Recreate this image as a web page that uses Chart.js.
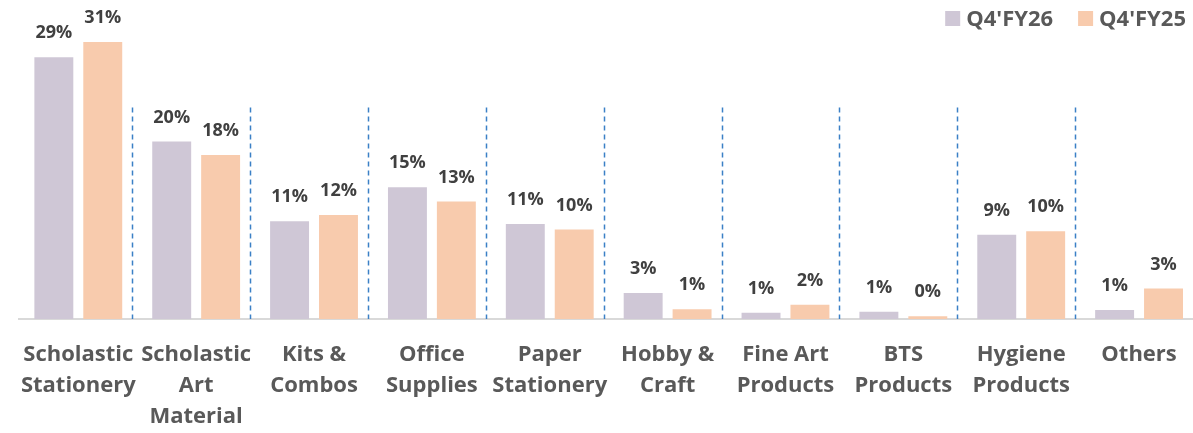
<!DOCTYPE html>
<html>
<head>
<meta charset="utf-8">
<script src="https://cdn.jsdelivr.net/npm/chart.js@4.4.1/dist/chart.umd.min.js"></script>
<style>
  html, body { margin: 0; padding: 0; background: #fff; overflow: hidden; }
  #wrap { width: 1198px; height: 433px; position: relative; }
</style>
</head>
<body>
<div id="wrap"><canvas id="mixChart"></canvas></div>
<script>
const categories = [
  ['Scholastic', 'Stationery'],
  ['Scholastic', 'Art', 'Material'],
  ['Kits &', 'Combos'],
  ['Office', 'Supplies'],
  ['Paper', 'Stationery'],
  ['Hobby &', 'Craft'],
  ['Fine Art', 'Products'],
  ['BTS', 'Products'],
  ['Hygiene', 'Products'],
  ['Others'],
];
const fy26 = [29.2, 19.8, 10.9, 14.7, 10.6, 2.9, 0.7, 0.8, 9.4, 1.0];
const fy25 = [30.9, 18.3, 11.6, 13.1, 10.0, 1.1, 1.6, 0.3, 9.8, 3.4];
const seriesNames = ["Q4'FY26", "Q4'FY25"];
const seriesColors = ['#CFC7D6', '#F8CBAD'];

const FONT = '"Open Sans", "Liberation Sans", sans-serif';

// value labels above each bar
const barLabels = {
  id: 'barLabels',
  afterDatasetsDraw(chart) {
    const ctx = chart.ctx;
    ctx.save();
    ctx.font = 'bold 18px ' + FONT;
    ctx.fillStyle = '#404040';
    ctx.textAlign = 'center';
    ctx.textBaseline = 'bottom';
    chart.data.datasets.forEach((ds, di) => {
      chart.getDatasetMeta(di).data.forEach((bar, i) => {
        ctx.fillText(Math.round(ds.data[i]) + '%', bar.x, bar.y - 15);
      });
    });
    ctx.restore();
  },
};

// dashed separators between categories
const separators = {
  id: 'separators',
  beforeDatasetsDraw(chart) {
    const { ctx, scales: { x, y } } = chart;
    ctx.save();
    ctx.strokeStyle = '#3B80C6';
    ctx.lineWidth = 1.5;
    ctx.setLineDash([5, 4]);
    const top = y.getPixelForValue(23.6);
    const bottom = y.getPixelForValue(0);
    for (let i = 0; i < categories.length - 1; i++) {
      const sx = Math.round((x.getPixelForValue(i) + x.getPixelForValue(i + 1)) / 2 - 5) + 0.5;
      ctx.beginPath();
      ctx.moveTo(sx, top);
      ctx.lineTo(sx, bottom);
      ctx.stroke();
    }
    ctx.restore();
  },
};

// legend in the top right corner, laid out from the right edge
const topLegend = {
  id: 'topLegend',
  afterDraw(chart) {
    const ctx = chart.ctx;
    const box = 15, gap = 6, between = 25, cy = 18.5;
    ctx.save();
    ctx.font = 'bold 22px ' + FONT;
    ctx.textBaseline = 'middle';
    let right = chart.width - 12;
    const items = chart.data.datasets.map((ds) => ({ text: ds.label, color: ds.backgroundColor }));
    for (let i = items.length - 1; i >= 0; i--) {
      const w = ctx.measureText(items[i].text).width;
      const tx = right - w;
      ctx.fillStyle = '#595959';
      ctx.fillText(items[i].text, tx, cy + 1);
      ctx.fillStyle = items[i].color;
      ctx.fillRect(tx - gap - box, cy - box / 2, box, box);
      right = tx - gap - box - between;
    }
    ctx.restore();
  },
};

new Chart(document.getElementById('mixChart'), {
  type: 'bar',
  data: {
    labels: categories,
    datasets: [
      { label: seriesNames[0], data: fy26, backgroundColor: seriesColors[0] },
      { label: seriesNames[1], data: fy25, backgroundColor: seriesColors[1] },
    ],
  },
  options: {
    responsive: true,
    maintainAspectRatio: false,
    animation: false,
    categoryPercentage: 0.83,
    barPercentage: 0.796,
    layout: { padding: { left: 18, right: 0, top: 0, bottom: -19 } },
    plugins: {
      tooltip: { enabled: false },
      legend: { display: false },
    },
    scales: {
      x: {
        grid: { display: false, drawTicks: false },
        border: { display: true, color: '#D9D9D9', width: 2 },
        ticks: {
          autoSkip: false,
          maxRotation: 0,
          padding: 20,
          color: '#595959',
          font: { family: FONT, size: 22, weight: 'bold', lineHeight: 31 / 22 },
        },
      },
      y: {
        display: false,
        min: 0,
        max: 35.6,
      },
    },
  },
  plugins: [separators, barLabels, topLegend],
});
</script>
</body>
</html>
